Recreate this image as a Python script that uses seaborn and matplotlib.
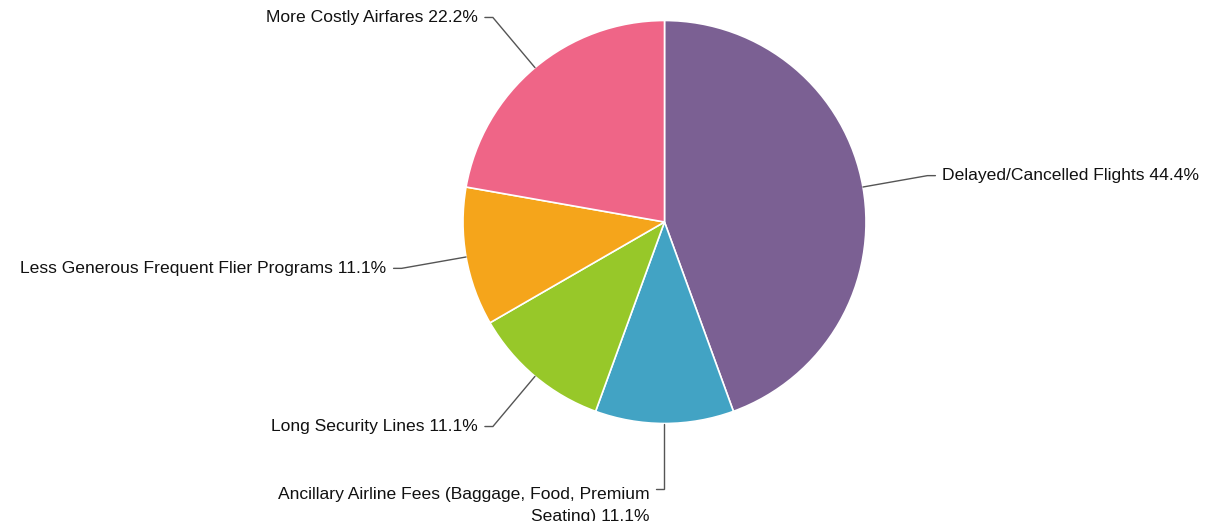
import numpy as np
import matplotlib
matplotlib.use("Agg")
import matplotlib.pyplot as plt
import seaborn as sns

# Share of travellers naming each issue as their top complaint
categories = [
    "Delayed/Cancelled Flights",
    "Ancillary Airline Fees (Baggage, Food, Premium\nSeating)",
    "Long Security Lines",
    "Less Generous Frequent Flier Programs",
    "More Costly Airfares",
]
shares = [44.4, 11.1, 11.1, 11.1, 22.2]
colors = ["#7B6093", "#42A3C4", "#97C829", "#F5A51B", "#EF6587"]

sns.set_theme(style="white")
plt.rcParams["font.family"] = ["Liberation Sans", "DejaVu Sans"]

W, H, DPI = 1208, 521, 100
fig = plt.figure(figsize=(W / DPI, H / DPI), dpi=DPI)
ax = fig.add_axes([0, 0, 1, 1])

wedges, _ = ax.pie(
    shares,
    colors=colors,
    startangle=90,
    counterclock=False,
    radius=1.0,
    wedgeprops=dict(edgecolor="white", linewidth=1.2),
)

# pixel geometry of the pie: one data unit = R pixels
cx, cy, R = 664.5, 222.0, 201.5
ax.set_xlim(-cx / R, (W - cx) / R)
ax.set_ylim(-(H - cy) / R, cy / R)
ax.set_aspect("auto")
ax.set_axis_off()

elbow_r = 1.325
tail = 8 / R
gap = 7 / R
for w, cat, val in zip(wedges, categories, shares):
    mid = np.deg2rad((w.theta1 + w.theta2) / 2)
    x0, y0 = np.cos(mid), np.sin(mid)
    x1, y1 = elbow_r * np.cos(mid), elbow_r * np.sin(mid)
    side = 1 if np.cos(mid) > 1e-6 else -1
    x2 = x1 + side * tail
    ax.plot([x0, x1, x2], [y0, y1, y1], color="#555555", lw=1.0,
            solid_joinstyle="miter")
    label = f"{cat} {val:.1f}%"
    ha = "left" if side > 0 else "right"
    if "\n" in cat:
        ax.text(x2 + side * gap, y1 + 2 / R, label, ha=ha, va="top",
                multialignment="right", fontsize=12.6, color="#111111",
                linespacing=1.6)
    else:
        ax.text(x2 + side * gap, y1, label, ha=ha, va="center",
                fontsize=12.6, color="#111111")

fig.savefig("out.png", dpi=DPI, facecolor="white")
